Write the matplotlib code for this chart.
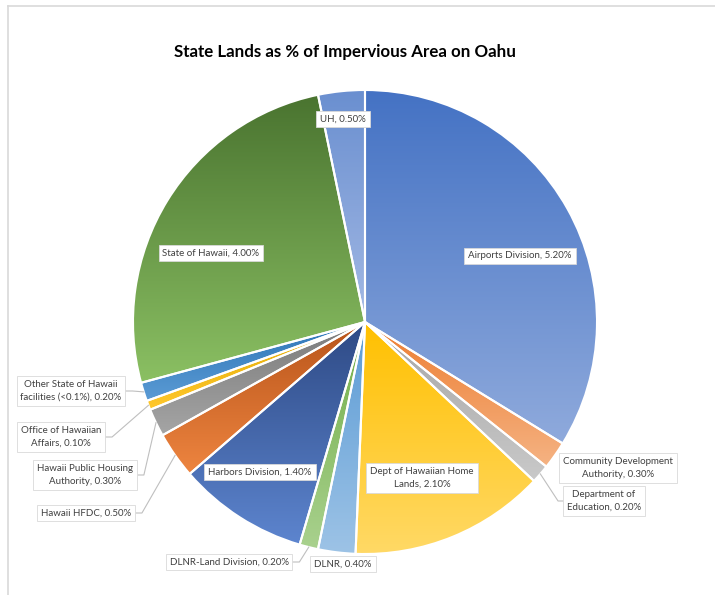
from matplotlib import pyplot as plt
from matplotlib.colors import LinearSegmentedColormap
from matplotlib.lines import Line2D
import numpy as np

plt.rcParams['font.family'] = ['Lato', 'DejaVu Sans']

# data (clockwise from 12 o'clock)
labels = ['Airports Division', 'Community Development\nAuthority', 'Department of\nEducation',
          'Dept of Hawaiian Home\nLands', 'DLNR', 'DLNR-Land Division', 'Harbors Division',
          'Hawaii HFDC', 'Hawaii Public Housing\nAuthority', 'Office of Hawaiian\nAffairs',
          'Other State of Hawaii\nfacilities (<0.1%)', 'State of Hawaii', 'UH']
values = [5.2, 0.3, 0.2, 2.1, 0.4, 0.2, 1.4, 0.5, 0.3, 0.1, 0.2, 4.0, 0.5]

# gradient colours per wedge (top, bottom)
grads = [('#4472C4', '#8FAADC'), ('#ED7D31', '#F5B383'), ('#A5A5A5', '#C9C9C9'),
         ('#FFC000', '#FFD966'), ('#5B9BD5', '#9DC3E6'), ('#70AD47', '#A9D18E'),
         ('#2E4A85', '#5D85CF'), ('#B8541A', '#EE8540'), ('#7A7A7A', '#A5A5A5'),
         ('#E0A800', '#FFC82E'), ('#2E75B6', '#5B9BD5'), ('#4A7430', '#8BC063'),
         ('#6A8FD0', '#A3B9E4')]

# label placement in pixels (center x, center y) and leader side
W, H = 715, 595
cx, cy, R = 365, 322, 232
label_pos = [(520, 256), (618, 468), (604, 501), (422, 478), (343, 564), (229, 562),
             (260, 472), (86, 513), (85, 475), (61, 437), (71, 391), (211, 253), (343, 119)]
leader = [None, None, 'left', None, None, 'right', None, 'right', 'right', 'right', 'right', None, None]


def px2d(px, py):
    return (px - cx) / R, (cy - py) / R


fig = plt.figure(figsize=(7.15, 5.95), dpi=100)
ax = fig.add_axes([0, 0, 1, 1])

wedges, _ = ax.pie(values, startangle=90, counterclock=False, radius=1,
                   wedgeprops=dict(edgecolor='white', linewidth=1.5))
grad = np.linspace(0, 1, 256).reshape(-1, 1)
for w, (ctop, cbot) in zip(wedges, grads):
    bb = w.get_path().get_extents()
    cmap = LinearSegmentedColormap.from_list('g', [ctop, cbot])
    im = ax.imshow(grad, cmap=cmap, extent=(bb.x0, bb.x1, bb.y0, bb.y1),
                   origin='upper', aspect='auto', zorder=0.5, interpolation='bilinear')
    im.set_clip_path(w)
    w.set_facecolor('none')

ax.set_xlim(px2d(0, 0)[0], px2d(W, 0)[0])
ax.set_ylim(px2d(0, H)[1], px2d(0, 0)[1])
ax.set_aspect('auto')
ax.axis('off')

texts = []
for lab, v, (lx, ly) in zip(labels, values, label_pos):
    t = ax.text(*px2d(lx, ly), f'{lab}, {v:.2f}%', ha='center', va='center',
                fontsize=7.0, color='#404040', linespacing=1.5, zorder=5,
                bbox=dict(boxstyle='square,pad=0.4', fc='white', ec='#D9D9D9', lw=0.6))
    texts.append(t)

# leader lines from wedge edge to label box
fig.canvas.draw()
inv = ax.transData.inverted()
theta0 = 90.0
total = sum(values)
cum = 0
for w, v, t, side in zip(wedges, values, texts, leader):
    mid = np.deg2rad(theta0 - (cum + v / 2) / total * 360)
    cum += v
    if side is None:
        continue
    ext = t.get_bbox_patch().get_window_extent()
    ymid = (ext.y0 + ext.y1) / 2
    if side == 'right':
        xe = ext.x1
        xel = xe + 7
    else:
        xe = ext.x0
        xel = xe - 5
    (x1, y1) = inv.transform((xe, ymid))
    (x2, y2) = inv.transform((xel, ymid))
    ax.plot([np.cos(mid), x2, x1], [np.sin(mid), y2, y1], color='#BFBFBF', lw=0.8, zorder=4)

fig.text(345 / W, 1 - 52 / H, 'State Lands as % of Impervious Area on Oahu',
         ha='center', va='center', fontsize=12.2, fontweight='bold', color='black')

# chart frame
fig.add_artist(Line2D([8 / W, 1], [1 - 6 / H, 1 - 6 / H], color='#D9D9D9', lw=1.2))
fig.add_artist(Line2D([8 / W, 8 / W], [0, 1 - 6 / H], color='#D9D9D9', lw=1.2))

fig.savefig('out.png', dpi=100)
